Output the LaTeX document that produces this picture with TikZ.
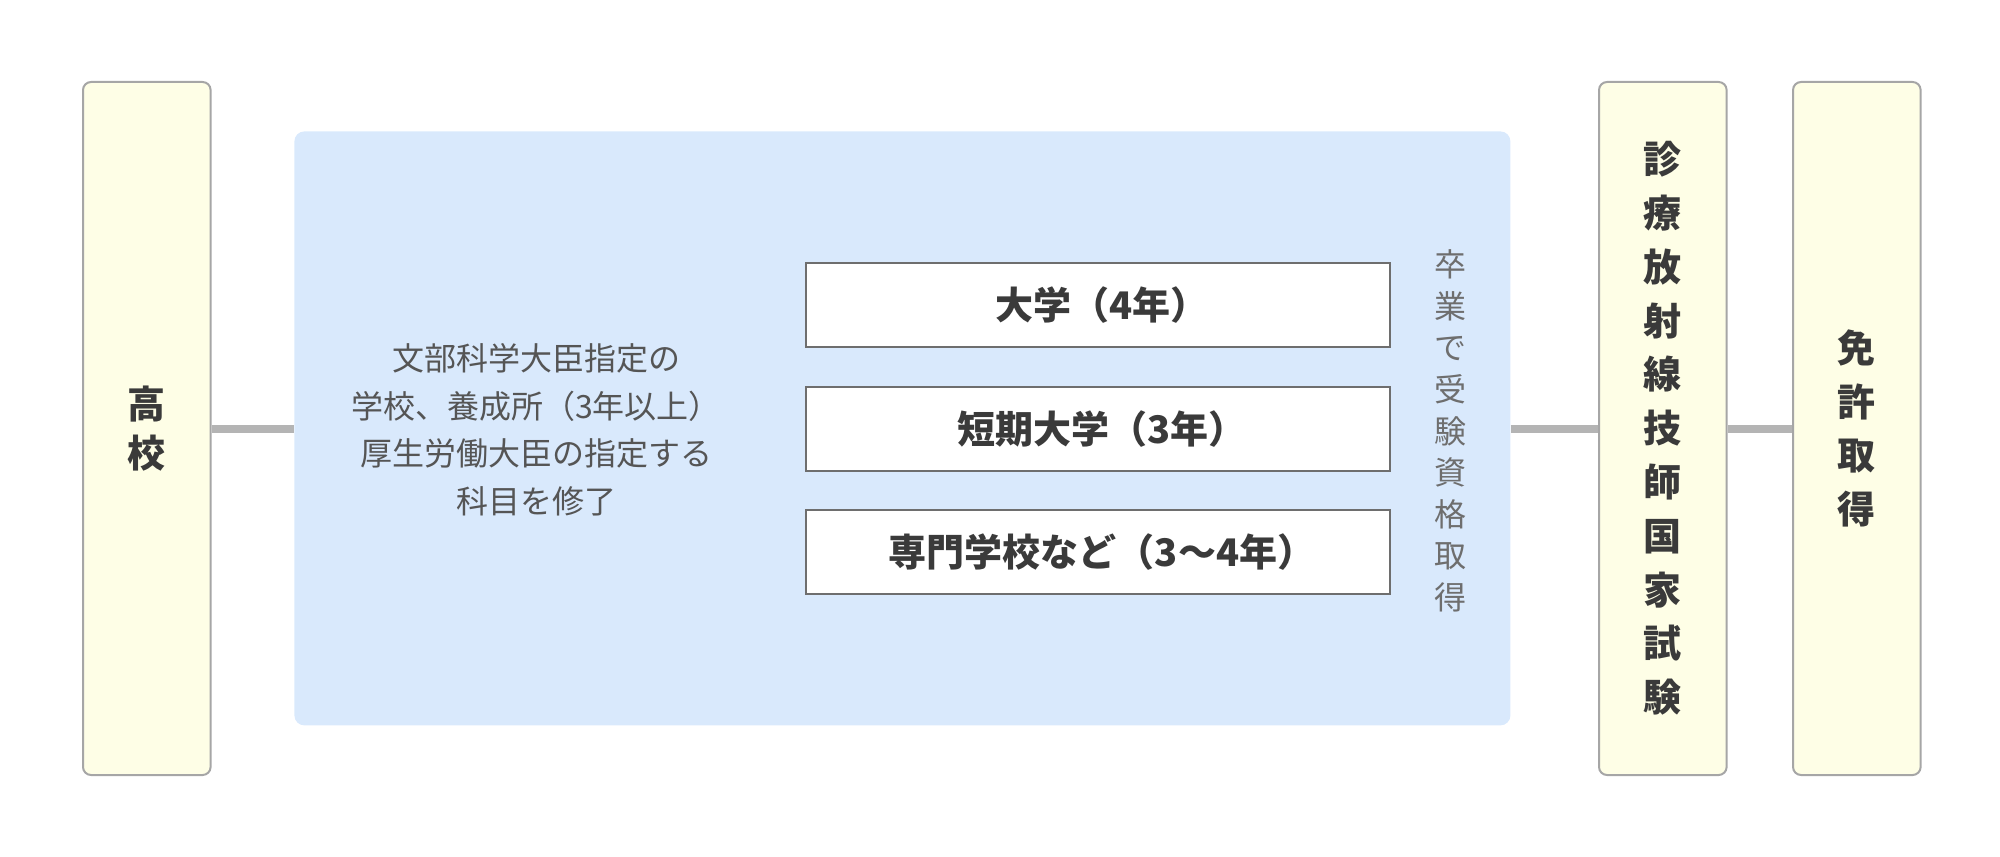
\documentclass[tikz,border=0pt]{standalone}
\usepackage{fontspec}
\setmainfont{Noto Sans CJK JP}
\definecolor{yfill}{HTML}{FEFEE6}
\definecolor{yborder}{HTML}{A6A6A6}
\definecolor{bluebg}{HTML}{D9E9FC}
\definecolor{linkgray}{HTML}{B4B4B4}
\definecolor{wborder}{HTML}{6E6E6E}
\definecolor{darktext}{HTML}{3A3A3A}
\definecolor{graytext}{HTML}{555555}
\begin{document}
\begin{tikzpicture}[x=0.5pt,y=-0.5pt,
  ybox/.style={draw=yborder, line width=1pt, fill=yfill, rounded corners=4pt,
    minimum width=63.8pt, minimum height=346.5pt, inner sep=0pt, anchor=north west,
    text=darktext, align=center, font=\fontsize{19pt}{26.9pt}\selectfont\bfseries},
  wbox/.style={draw=wborder, line width=1pt, fill=white, minimum width=292pt,
    minimum height=42.2pt, inner sep=0pt, anchor=north west, text=darktext,
    font=\fontsize{19pt}{24pt}\selectfont\bfseries},
  link/.style={draw=linkgray, line width=4pt},
  note/.style={text=graytext, align=center, inner sep=0pt}
]
\useasboundingbox (0,0) rectangle (2000,856);
% background region
\node[fill=bluebg, rounded corners=5pt, minimum width=608pt, minimum height=297pt,
  inner sep=0pt, anchor=north west] (blue) at (294,131) {};
% yellow boxes
\node[ybox, font=\fontsize{19pt}{24.5pt}\selectfont\bfseries] (hs) at (82,81) {高\\校};
\node[ybox] (exam) at (1598,81) {診\\療\\放\\射\\線\\技\\師\\国\\家\\試\\験};
\node[ybox] (lic) at (1792,81) {免\\許\\取\\得};
% white boxes
\node[wbox] (univ) at (805,261.5) {\hspace*{4pt}大学（4年）};
\node[wbox] (junior) at (805,385.5) {\hspace*{4pt}短期大学（3年）};
\node[wbox] (voc) at (805,509) {\hspace*{4pt}専門学校など（3〜4年）};
% notes
\node[note, font=\fontsize{16pt}{23.75pt}\selectfont] (req) at (536,430)
  {文部科学大臣指定の\\学校、養成所（3年以上）\\厚生労働大臣の指定する\\科目を修了};
\node[note, text=graytext!85, font=\fontsize{16pt}{20.8pt}\selectfont] (grad) at (1450,431)
  {卒\\業\\で\\受\\験\\資\\格\\取\\得};
% connectors
\draw[link] (hs.east) -- (hs.east -| blue.west);
\draw[link] (exam.west -| blue.east) -- (exam.west);
\draw[link] (exam.east) -- (lic.west);
\end{tikzpicture}
\end{document}
